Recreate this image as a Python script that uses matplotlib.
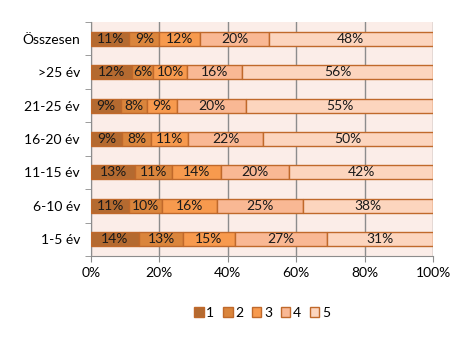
import numpy as np
import matplotlib.pyplot as plt

plt.rcParams['font.family'] = ['Lato', 'DejaVu Sans']

# categories, top to bottom
categories = ['Összesen', '>25 év', '21-25 év', '16-20 év', '11-15 év', '6-10 év', '1-5 év']
series_names = ['1', '2', '3', '4', '5']
s1 = [11.2, 12.0, 8.8, 9.2, 13.0, 11.2, 14.0]
s2 = [8.8, 6.2, 7.6, 8.3, 10.8, 9.6, 13.0]
s3 = [12.0, 10.0, 8.7, 10.9, 14.2, 16.0, 15.0]
s4 = [20.0, 16.0, 20.3, 22.0, 20.0, 25.2, 27.0]
s5 = [48.0, 55.8, 54.6, 49.6, 42.0, 38.0, 31.0]

colors = ['#B46A30', '#DA853C', '#F79A4E', '#F9B894', '#FCD5BE']
edge = '#C0692B'

fig = plt.figure(figsize=(4.75, 3.59), dpi=100)
ax = fig.add_axes([91 / 475, 1 - 256 / 359, (433 - 91) / 475, (256 - 22) / 359])
ax.set_facecolor('#FBEDE8')

y = np.arange(len(categories))[::-1]
left = np.zeros(len(categories))
for name, vals, c in zip(series_names, [s1, s2, s3, s4, s5], colors):
    vals = np.array(vals)
    ax.barh(y, vals, left=left, height=0.42, color=c, edgecolor=edge,
            linewidth=1, label=name, zorder=3)
    for yi, l, v in zip(y, left, vals):
        ax.text(l + v / 2, yi, f'{v:.0f}%', ha='center', va='center',
                fontsize=10, color='#1a1a1a', zorder=4)
    left = left + vals

ax.set_xlim(0, 100)
ax.set_ylim(-0.5, len(categories) - 0.5)
ax.set_xticks(np.arange(0, 101, 20))
ax.set_xticklabels([f'{t}%' for t in range(0, 101, 20)], fontsize=10)
ax.set_yticks(y)
ax.set_yticklabels(categories, fontsize=10)
ax.set_yticks(np.arange(-0.5, len(categories), 1), minor=True)
ax.tick_params(axis='y', which='major', length=0, pad=8)
ax.tick_params(axis='y', which='minor', length=4, color='#8C8C8C', direction='out')
ax.tick_params(axis='x', length=4, color='#8C8C8C', direction='out', pad=4)
ax.xaxis.grid(True, color='#8C8C8C', linewidth=1, zorder=0)
for s in ['top', 'right']:
    ax.spines[s].set_visible(False)
for s in ['left', 'bottom']:
    ax.spines[s].set_color('#8C8C8C')

fig.legend(loc='center', bbox_to_anchor=(262 / 475, 1 - 313 / 359), ncol=5,
           frameon=False, fontsize=10, handlelength=0.7, handleheight=0.7,
           handletextpad=0.2, columnspacing=0.6)

fig.savefig('out.png', dpi=100)
